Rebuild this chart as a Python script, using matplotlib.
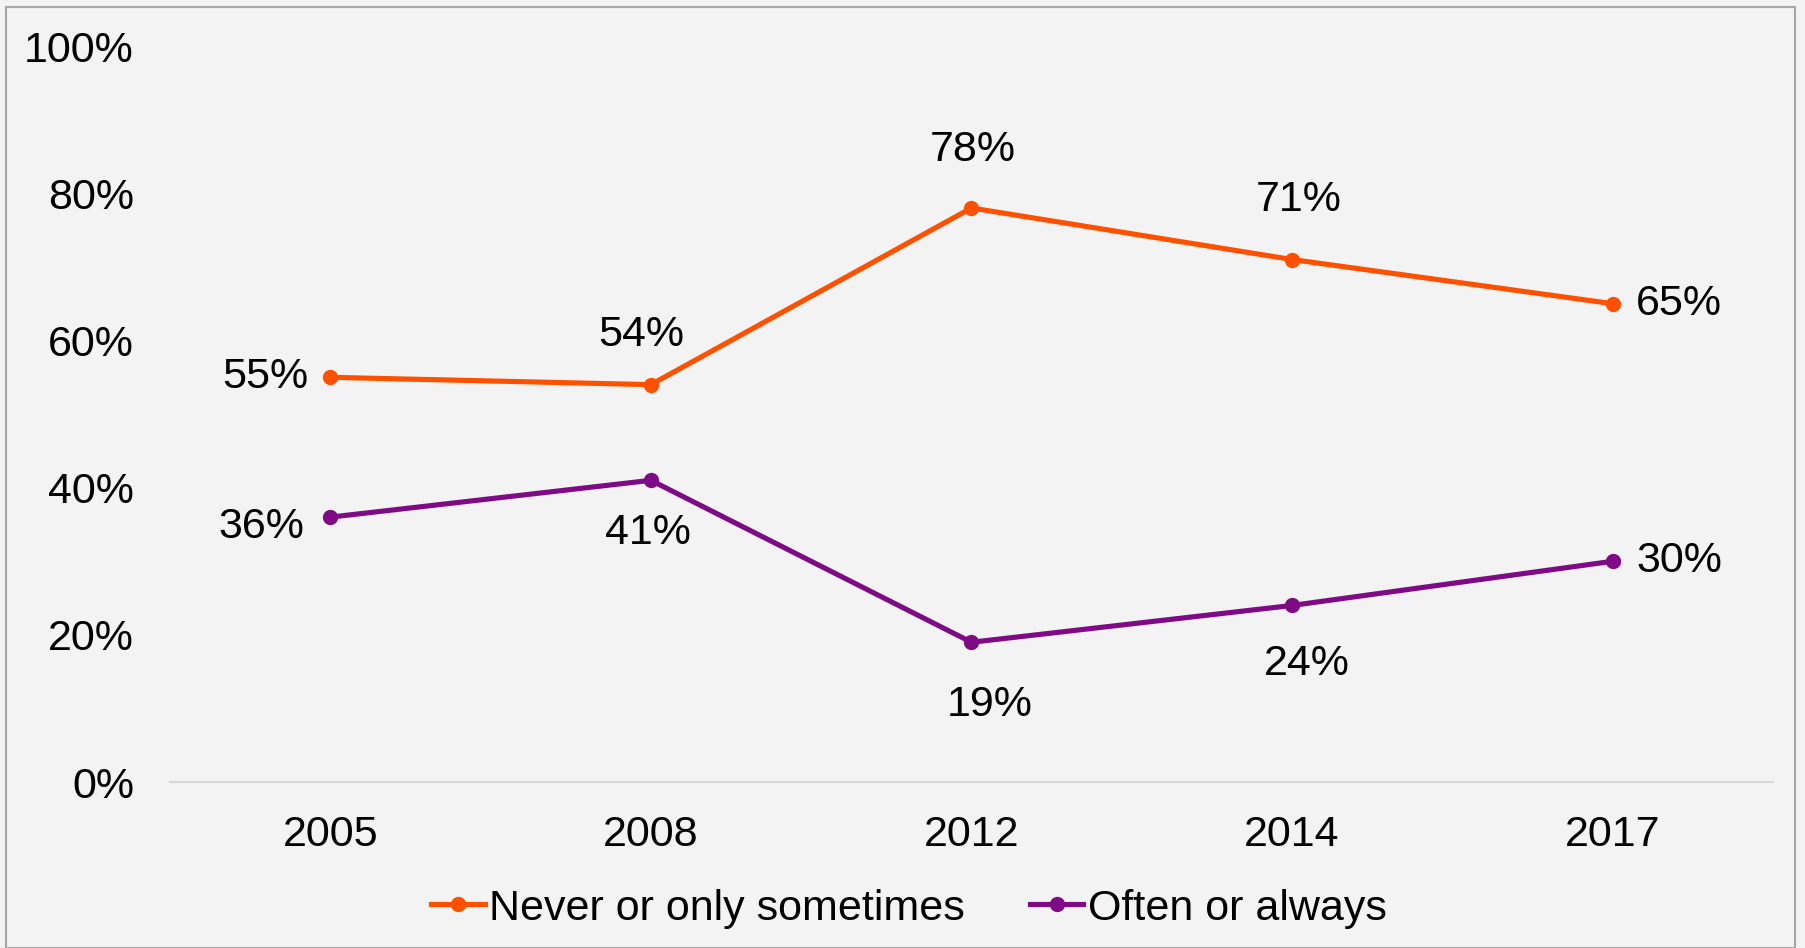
import matplotlib
matplotlib.use("Agg")
import matplotlib.pyplot as plt
from matplotlib.patches import Rectangle

plt.rcParams['font.family'] = ['Liberation Sans', 'DejaVu Sans']

# data
years = ['2005', '2008', '2012', '2014', '2017']
never = [55, 54, 78, 71, 65]
often = [36, 41, 19, 24, 30]
never_label = 'Never or only sometimes'
often_label = 'Often or always'
yticks = [0, 20, 40, 60, 80, 100]

orange = '#FF5000'
purple = '#7F0A85'
bg = '#F3F3F3'

fig = plt.figure(figsize=(18.05, 9.48), dpi=100)
fig.patch.set_facecolor(bg)
# slide frame
fig.patches.append(Rectangle((6 / 1805, 0), 1789 / 1805, 1 - 7 / 948, transform=fig.transFigure,
                             fill=False, edgecolor='#A6A6A6', linewidth=1.5))

ax = fig.add_axes([0.0942, 0.175, 0.888, 0.7764])
ax.set_facecolor('none')

x = range(len(years))
ax.plot(x, never, color=orange, lw=3.7, marker='o', ms=10, label=never_label)
ax.plot(x, often, color=purple, lw=3.7, marker='o', ms=10, label=often_label)

ax.set_xlim(-0.5, len(years) - 0.5)
ax.set_ylim(0, 100)
ax.set_yticks(yticks)
ax.set_yticklabels([f'{v}%' for v in yticks])
ax.set_xticks(list(x))
ax.set_xticklabels(years)
ax.tick_params(axis='y', length=0, labelsize=31, pad=26)
ax.tick_params(axis='x', length=0, labelsize=31, pad=24)
for s in ['top', 'right', 'left']:
    ax.spines[s].set_visible(False)
ax.spines['bottom'].set_color('#D9D9D9')
ax.spines['bottom'].set_linewidth(1.5)

# data label offsets (points), label centred at point + offset unless side given
never_offs = [(-16, 0, 'right'), (-7, 36, 'center'), (1, 42, 'center'), (5, 43, 'center'), (17, 0, 'left')]
often_offs = [(-19, -7, 'right'), (-2, -38, 'center'), (13, -45, 'center'), (11, -42, 'center'), (17, 0, 'left')]
for vals, offs in [(never, never_offs), (often, often_offs)]:
    for i, v in enumerate(vals):
        dx, dy, ha = offs[i]
        ax.annotate(f'{v}%', (i, v), xytext=(dx, dy), textcoords='offset points',
                    ha=ha, va='center', fontsize=31, color='black')

leg = ax.legend(loc='upper center', bbox_to_anchor=(0.461, -0.092), ncol=2, frameon=False,
                fontsize=31, handlelength=1.25, handletextpad=0.1, columnspacing=1.5)

fig.savefig('out.png', dpi=100, facecolor=fig.get_facecolor())
